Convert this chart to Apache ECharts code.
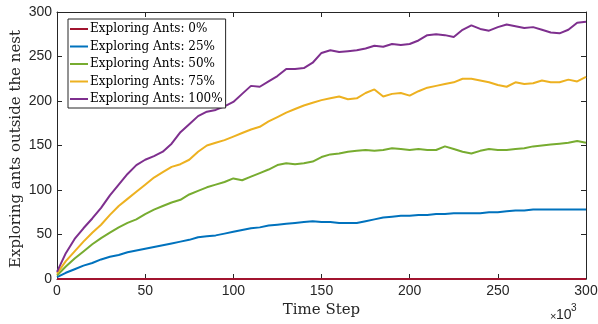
<!DOCTYPE html>
<html>
<head>
<meta charset="utf-8">
<script src="https://cdn.jsdelivr.net/npm/echarts@6/dist/echarts.min.js"></script>
<style>html,body{margin:0;padding:0;background:#fff}#c{width:598px;height:324px}</style>
</head>
<body>
<div id="c"></div>
<script>
// time step (x 10^3)
const timeSteps = [0,5,10,15,20,25,30,35,40,45,50,55,60,65,70,75,80,85,90,95,100,105,110,115,120,125,130,135,140,145,150,155,160,165,170,175,180,185,190,195,200,205,210,215,220,225,230,235,240,245,250,255,260,265,270,275,280,285,290,295,300];
const seriesNames = ['Exploring Ants: 0%','Exploring Ants: 25%','Exploring Ants: 50%','Exploring Ants: 75%','Exploring Ants: 100%'];
const ants0 = [0,0,0,0,0,0,0,0,0,0,0,0,0,0,0,0,0,0,0,0,0,0,0,0,0,0,0,0,0,0,0,0,0,0,0,0,0,0,0,0,0,0,0,0,0,0,0,0,0,0,0,0,0,0,0,0,0,0,0,0,0];
const ants25 = [2,7,11,15,18,22,25,27,30,32,34,36,38,40,42,44,47,48,49,51,53,55,57,58,60,61,62,63,64,65,64,64,63,63,63,65,67,69,70,71,71,72,72,73,73,74,74,74,74,75,75,76,77,77,78,78,78,78,78,78,78];
const ants50 = [4,14,23,31,39,46,52,58,63,67,73,78,82,86,89,95,99,103,106,109,113,111,115,119,123,128,130,129,130,132,137,140,141,143,144,145,144,145,147,146,145,146,145,145,149,146,143,141,144,146,145,145,146,147,149,150,151,152,153,155,153];
const ants75 = [6,20,31,42,52,61,72,82,90,98,106,114,120,126,129,134,143,150,153,156,160,164,168,171,177,182,187,191,195,198,201,203,205,202,203,209,213,205,208,209,206,211,215,217,219,221,225,225,223,221,218,216,221,219,220,223,221,221,224,222,227];
const ants100 = [8,29,45,57,68,80,94,106,118,128,134,138,143,152,165,174,183,188,190,194,199,208,217,216,222,228,236,236,237,243,254,257,255,256,257,259,262,261,264,263,264,268,274,275,274,272,280,285,281,279,283,286,284,282,283,280,277,276,280,288,289];
const xTicks = [0,50,100,150,200,250,300];
const yTicks = [0,50,100,150,200,250,300];
const colors = ['#A2142F','#0072BD','#77AC30','#EDB120','#7E2F8E'];

const allData = [ants0, ants25, ants50, ants75, ants100];
const chart = echarts.init(document.getElementById('c'), null, {renderer:'canvas'});
const axisCol = '#262626';
const sans = 'Liberation Sans';
const serif = 'DejaVu Serif';
const tick = {show:true, inside:true, length:5, lineStyle:{color:axisCol, width:1}};
const series = allData.map((d,i)=>({
  name: seriesNames[i],
  type:'line',
  data: timeSteps.map((t,j)=>[t,d[j]]),
  symbol:'none',
  clip:false,
  lineStyle:{color:colors[i], width:2},
  itemStyle:{color:colors[i]},
  z: 2 + (i===0?5:0)
}));
chart.setOption({
  animation:false,
  backgroundColor:'#fff',
  grid:{left:57, right:12, top:12, bottom:45, outerBoundsMode:'none', containLabel:false},
  legend:{
    orient:'vertical', left:68, top:19,
    data: seriesNames,
    icon:'rect', itemWidth:18, itemHeight:2, itemGap:5.5,
    backgroundColor:'#fff', borderColor:axisCol, borderWidth:1,
    padding:[4,3,3,2],
    textStyle:{fontFamily:serif, fontSize:12, color:'#000', padding:[0,0,0,-3]}
  },
  xAxis:[{
    type:'value', min:0, max:300, interval:50, position:'bottom',
    axisLine:{show:true, lineStyle:{color:axisCol, width:1}},
    axisTick:tick, splitLine:{show:false},
    axisLabel:{fontFamily:sans, fontSize:14, color:axisCol, margin:5},
    name:'Time Step', nameLocation:'middle', nameGap:23,
    nameTextStyle:{fontFamily:serif, fontSize:15, color:axisCol}
  },{
    type:'value', min:0, max:300, interval:50, position:'top',
    axisLine:{show:true, onZero:false, lineStyle:{color:axisCol, width:1}},
    axisTick:tick, axisLabel:{show:false}, splitLine:{show:false}
  }],
  yAxis:[{
    type:'value', min:0, max:300, interval:50, position:'left',
    axisLine:{show:true, lineStyle:{color:axisCol, width:1}},
    axisTick:tick, splitLine:{show:false},
    axisLabel:{fontFamily:sans, fontSize:14, color:axisCol, margin:5}
  },{
    type:'value', min:0, max:300, interval:50, position:'right',
    axisLine:{show:true, onZero:false, lineStyle:{color:axisCol, width:1}},
    axisTick:tick, axisLabel:{show:false}, splitLine:{show:false}
  }],
  graphic:[{
    type:'text', x:16, y:149, rotation:Math.PI/2,
    style:{text:'Exploring ants outside the nest', font:'15px "DejaVu Serif"', fill:axisCol,
      textAlign:'center', textVerticalAlign:'middle'}
  },{
    type:'text', left:550, top:311,
    style:{text:'×', font:'11px "Liberation Sans"', fill:axisCol}
  },{
    type:'text', left:556, top:308,
    style:{text:'10', font:'14px "Liberation Sans"', fill:axisCol}
  },{
    type:'text', left:571, top:303,
    style:{text:'3', font:'10px "Liberation Sans"', fill:axisCol}
  }],
  series: series
});
</script>
</body>
</html>
